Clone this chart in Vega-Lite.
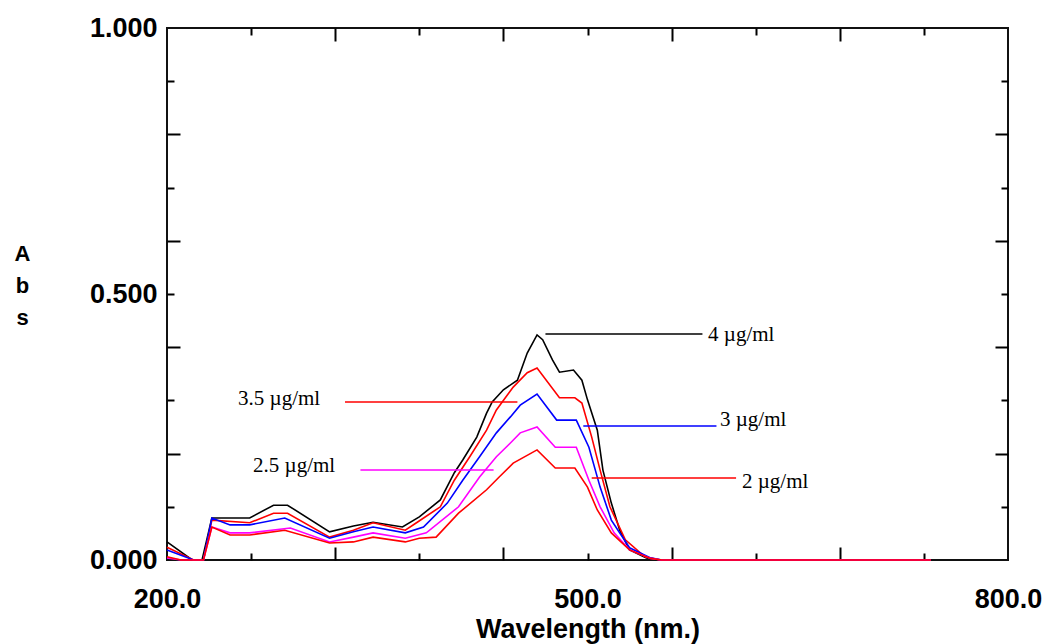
{
  "$schema": "https://vega.github.io/schema/vega-lite/v6.json",
  "autosize": {"type": "none"},
  "width": 841,
  "height": 532,
  "padding": {"left": 167, "top": 28, "right": 42, "bottom": 84},
  "background": "#ffffff",
  "config": {
    "view": {"stroke": "#111111", "strokeWidth": 2},
    "axis": {"grid": false, "domain": false}
  },
  "datasets": {
    "series": [
      {"c":"4","w":200,"a":0.034},{"c":"4","w":218,"a":0},{"c":"4","w":225,"a":0},{"c":"4","w":232,"a":0.079},{"c":"4","w":259,"a":0.079},{"c":"4","w":276,"a":0.103},{"c":"4","w":286,"a":0.103},{"c":"4","w":316,"a":0.053},{"c":"4","w":333,"a":0.064},{"c":"4","w":347,"a":0.071},{"c":"4","w":368,"a":0.062},{"c":"4","w":380,"a":0.081},{"c":"4","w":395,"a":0.113},{"c":"4","w":405,"a":0.164},{"c":"4","w":411,"a":0.188},{"c":"4","w":421,"a":0.231},{"c":"4","w":428,"a":0.276},{"c":"4","w":432,"a":0.297},{"c":"4","w":440,"a":0.32},{"c":"4","w":450,"a":0.338},{"c":"4","w":457,"a":0.389},{"c":"4","w":464,"a":0.423},{"c":"4","w":468,"a":0.414},{"c":"4","w":475,"a":0.376},{"c":"4","w":480,"a":0.353},{"c":"4","w":490,"a":0.357},{"c":"4","w":496,"a":0.338},{"c":"4","w":500,"a":0.301},{"c":"4","w":507,"a":0.244},{"c":"4","w":511,"a":0.169},{"c":"4","w":517,"a":0.107},{"c":"4","w":523,"a":0.056},{"c":"4","w":530,"a":0.019},{"c":"4","w":542,"a":0.004},{"c":"4","w":552,"a":0},{"c":"4","w":745,"a":0},
      {"c":"3.5","w":200,"a":0.024},{"c":"3.5","w":219,"a":0},{"c":"3.5","w":226,"a":0},{"c":"3.5","w":232,"a":0.075},{"c":"3.5","w":259,"a":0.07},{"c":"3.5","w":276,"a":0.088},{"c":"3.5","w":286,"a":0.088},{"c":"3.5","w":316,"a":0.043},{"c":"3.5","w":333,"a":0.056},{"c":"3.5","w":347,"a":0.07},{"c":"3.5","w":370,"a":0.056},{"c":"3.5","w":378,"a":0.07},{"c":"3.5","w":395,"a":0.1},{"c":"3.5","w":405,"a":0.15},{"c":"3.5","w":416,"a":0.194},{"c":"3.5","w":428,"a":0.244},{"c":"3.5","w":435,"a":0.282},{"c":"3.5","w":447,"a":0.325},{"c":"3.5","w":457,"a":0.352},{"c":"3.5","w":464,"a":0.361},{"c":"3.5","w":480,"a":0.305},{"c":"3.5","w":491,"a":0.305},{"c":"3.5","w":496,"a":0.295},{"c":"3.5","w":503,"a":0.231},{"c":"3.5","w":509,"a":0.169},{"c":"3.5","w":516,"a":0.1},{"c":"3.5","w":527,"a":0.038},{"c":"3.5","w":541,"a":0.006},{"c":"3.5","w":552,"a":0},{"c":"3.5","w":745,"a":0},
      {"c":"3","w":200,"a":0.019},{"c":"3","w":219,"a":0},{"c":"3","w":226,"a":0},{"c":"3","w":232,"a":0.079},{"c":"3","w":245,"a":0.066},{"c":"3","w":259,"a":0.066},{"c":"3","w":284,"a":0.079},{"c":"3","w":316,"a":0.041},{"c":"3","w":333,"a":0.053},{"c":"3","w":347,"a":0.062},{"c":"3","w":370,"a":0.051},{"c":"3","w":383,"a":0.062},{"c":"3","w":400,"a":0.107},{"c":"3","w":411,"a":0.15},{"c":"3","w":423,"a":0.194},{"c":"3","w":435,"a":0.239},{"c":"3","w":445,"a":0.269},{"c":"3","w":452,"a":0.291},{"c":"3","w":464,"a":0.312},{"c":"3","w":478,"a":0.263},{"c":"3","w":492,"a":0.263},{"c":"3","w":501,"a":0.212},{"c":"3","w":509,"a":0.137},{"c":"3","w":517,"a":0.075},{"c":"3","w":530,"a":0.023},{"c":"3","w":545,"a":0.004},{"c":"3","w":553,"a":0},{"c":"3","w":745,"a":0},
      {"c":"2.5","w":200,"a":0.004},{"c":"2.5","w":210,"a":0},{"c":"2.5","w":226,"a":0},{"c":"2.5","w":232,"a":0.062},{"c":"2.5","w":245,"a":0.051},{"c":"2.5","w":259,"a":0.051},{"c":"2.5","w":288,"a":0.06},{"c":"2.5","w":316,"a":0.034},{"c":"2.5","w":333,"a":0.043},{"c":"2.5","w":347,"a":0.051},{"c":"2.5","w":370,"a":0.041},{"c":"2.5","w":385,"a":0.051},{"c":"2.5","w":408,"a":0.1},{"c":"2.5","w":423,"a":0.156},{"c":"2.5","w":435,"a":0.194},{"c":"2.5","w":445,"a":0.22},{"c":"2.5","w":452,"a":0.239},{"c":"2.5","w":464,"a":0.25},{"c":"2.5","w":477,"a":0.212},{"c":"2.5","w":492,"a":0.212},{"c":"2.5","w":501,"a":0.15},{"c":"2.5","w":509,"a":0.1},{"c":"2.5","w":519,"a":0.051},{"c":"2.5","w":530,"a":0.019},{"c":"2.5","w":545,"a":0.003},{"c":"2.5","w":553,"a":0},{"c":"2.5","w":745,"a":0},
      {"c":"2","w":200,"a":0.006},{"c":"2","w":210,"a":0},{"c":"2","w":226,"a":0},{"c":"2","w":232,"a":0.062},{"c":"2","w":245,"a":0.047},{"c":"2","w":259,"a":0.047},{"c":"2","w":284,"a":0.056},{"c":"2","w":316,"a":0.032},{"c":"2","w":333,"a":0.034},{"c":"2","w":347,"a":0.043},{"c":"2","w":370,"a":0.034},{"c":"2","w":380,"a":0.041},{"c":"2","w":392,"a":0.043},{"c":"2","w":408,"a":0.088},{"c":"2","w":428,"a":0.132},{"c":"2","w":437,"a":0.156},{"c":"2","w":447,"a":0.182},{"c":"2","w":464,"a":0.207},{"c":"2","w":477,"a":0.173},{"c":"2","w":491,"a":0.173},{"c":"2","w":500,"a":0.137},{"c":"2","w":507,"a":0.094},{"c":"2","w":517,"a":0.051},{"c":"2","w":530,"a":0.019},{"c":"2","w":545,"a":0.003},{"c":"2","w":553,"a":0},{"c":"2","w":745,"a":0}
    ],
    "leaders": [
      {"c":"4","x1":470,"x2":582,"y":0.425},
      {"c":"3.5","x1":327,"x2":450,"y":0.297},
      {"c":"3","x1":497,"x2":592,"y":0.252},
      {"c":"2.5","x1":338,"x2":433,"y":0.169},
      {"c":"2","x1":503,"x2":606,"y":0.154}
    ],
    "labels": [
      {"t":"4 µg/ml","x":586,"y":0.423},
      {"t":"3.5 µg/ml","x":250.7,"y":0.303},
      {"t":"3 µg/ml","x":594.5,"y":0.263},
      {"t":"2.5 µg/ml","x":261.4,"y":0.177},
      {"t":"2 µg/ml","x":610.2,"y":0.147}
    ]
  },
  "data": {"name": "series"},
  "resolve": {"axis": {"x": "independent", "y": "independent"}},
  "layer": [
    {
      "mark": {"type": "line", "strokeWidth": 1.6},
      "encoding": {
        "x": {"field": "w", "type": "quantitative",
          "scale": {"domain": [200, 800], "nice": false, "zero": false},
          "axis": {"orient": "bottom", "values": [200, 500, 800], "format": ".1f", "ticks": false,
            "labelFont": "Liberation Sans", "labelFontWeight": "bold", "labelFontSize": 27, "labelColor": "#000000",
            "labelPadding": 47, "labelBaseline": "alphabetic", "labelFlush": false, "labelOverlap": false,
            "title": "Wavelength (nm.)", "titleFont": "Liberation Sans", "titleFontSize": 27, "titleFontWeight": "bold",
            "titleColor": "#000000", "titleY": 77, "titleBaseline": "alphabetic"}},
        "y": {"field": "a", "type": "quantitative",
          "scale": {"domain": [0, 1], "nice": false},
          "axis": {"orient": "left", "values": [0, 0.5, 1], "format": ".3f", "ticks": false,
            "labelFont": "Liberation Sans", "labelFontWeight": "bold", "labelFontSize": 27, "labelColor": "#000000",
            "labelPadding": 10, "labelBaseline": "middle", "labelFlush": false, "labelOverlap": false,
            "title": ["A", "b", "s"], "titleAngle": 0, "titleX": -145, "titleY": 232, "titleAlign": "center",
            "titleBaseline": "alphabetic", "titleLineHeight": 32, "titleFont": "Liberation Sans", "titleFontSize": 22,
            "titleFontWeight": "bold", "titleColor": "#000000"}},
        "color": {"field": "c", "type": "nominal",
          "scale": {"domain": ["4", "3.5", "3", "2.5", "2"], "range": ["#000000", "#ff0000", "#0000ff", "#ff00ff", "#ff0000"]},
          "legend": null}
      }
    },
    {
      "data": {"name": "leaders"},
      "mark": {"type": "rule", "strokeWidth": 1.5},
      "encoding": {
        "x": {"field": "x1", "type": "quantitative", "scale": {"domain": [200, 800], "nice": false, "zero": false}, "axis": null},
        "x2": {"field": "x2"},
        "y": {"field": "y", "type": "quantitative", "scale": {"domain": [0, 1], "nice": false}, "axis": null},
        "color": {"field": "c", "type": "nominal", "legend": null}
      }
    },
    {
      "data": {"name": "labels"},
      "mark": {"type": "text", "align": "left", "baseline": "middle", "font": "Liberation Serif", "fontSize": 21, "color": "#000000"},
      "encoding": {
        "x": {"field": "x", "type": "quantitative", "scale": {"domain": [200, 800], "nice": false, "zero": false}, "axis": null},
        "y": {"field": "y", "type": "quantitative", "scale": {"domain": [0, 1], "nice": false}, "axis": null},
        "text": {"field": "t"}
      }
    },
    {
      "mark": {"type": "point", "opacity": 0},
      "encoding": {
        "x": {"field": "w", "type": "quantitative", "scale": {"domain": [200, 800], "nice": false, "zero": false},
          "axis": {"orient": "bottom", "values": [260, 380, 500, 620, 740], "labels": false, "title": null, "tickSize": -7, "tickWidth": 2, "tickColor": "#000000"}},
        "y": {"field": "a", "type": "quantitative", "scale": {"domain": [0, 1], "nice": false},
          "axis": {"orient": "left", "values": [0.1, 0.3, 0.5, 0.7, 0.9], "labels": false, "title": null, "tickSize": -7, "tickWidth": 2, "tickColor": "#000000"}}
      }
    },
    {
      "mark": {"type": "point", "opacity": 0},
      "encoding": {
        "x": {"field": "w", "type": "quantitative", "scale": {"domain": [200, 800], "nice": false, "zero": false},
          "axis": {"orient": "bottom", "values": [320, 440, 560, 680], "labels": false, "title": null, "tickSize": -13, "tickWidth": 2, "tickColor": "#000000"}},
        "y": {"field": "a", "type": "quantitative", "scale": {"domain": [0, 1], "nice": false},
          "axis": {"orient": "left", "values": [0.2, 0.4, 0.6, 0.8], "labels": false, "title": null, "tickSize": -13, "tickWidth": 2, "tickColor": "#000000"}}
      }
    },
    {
      "mark": {"type": "point", "opacity": 0},
      "encoding": {
        "x": {"field": "w", "type": "quantitative", "scale": {"domain": [200, 800], "nice": false, "zero": false},
          "axis": {"orient": "top", "values": [260, 380, 500, 620, 740], "labels": false, "title": null, "tickSize": -7, "tickWidth": 2, "tickColor": "#000000"}},
        "y": {"field": "a", "type": "quantitative", "scale": {"domain": [0, 1], "nice": false},
          "axis": {"orient": "right", "values": [0.1, 0.3, 0.5, 0.7, 0.9], "labels": false, "title": null, "tickSize": -7, "tickWidth": 2, "tickColor": "#000000"}}
      }
    },
    {
      "mark": {"type": "point", "opacity": 0},
      "encoding": {
        "x": {"field": "w", "type": "quantitative", "scale": {"domain": [200, 800], "nice": false, "zero": false},
          "axis": {"orient": "top", "values": [320, 440, 560, 680], "labels": false, "title": null, "tickSize": -13, "tickWidth": 2, "tickColor": "#000000"}},
        "y": {"field": "a", "type": "quantitative", "scale": {"domain": [0, 1], "nice": false},
          "axis": {"orient": "right", "values": [0.2, 0.4, 0.6, 0.8], "labels": false, "title": null, "tickSize": -13, "tickWidth": 2, "tickColor": "#000000"}}
      }
    }
  ]
}
